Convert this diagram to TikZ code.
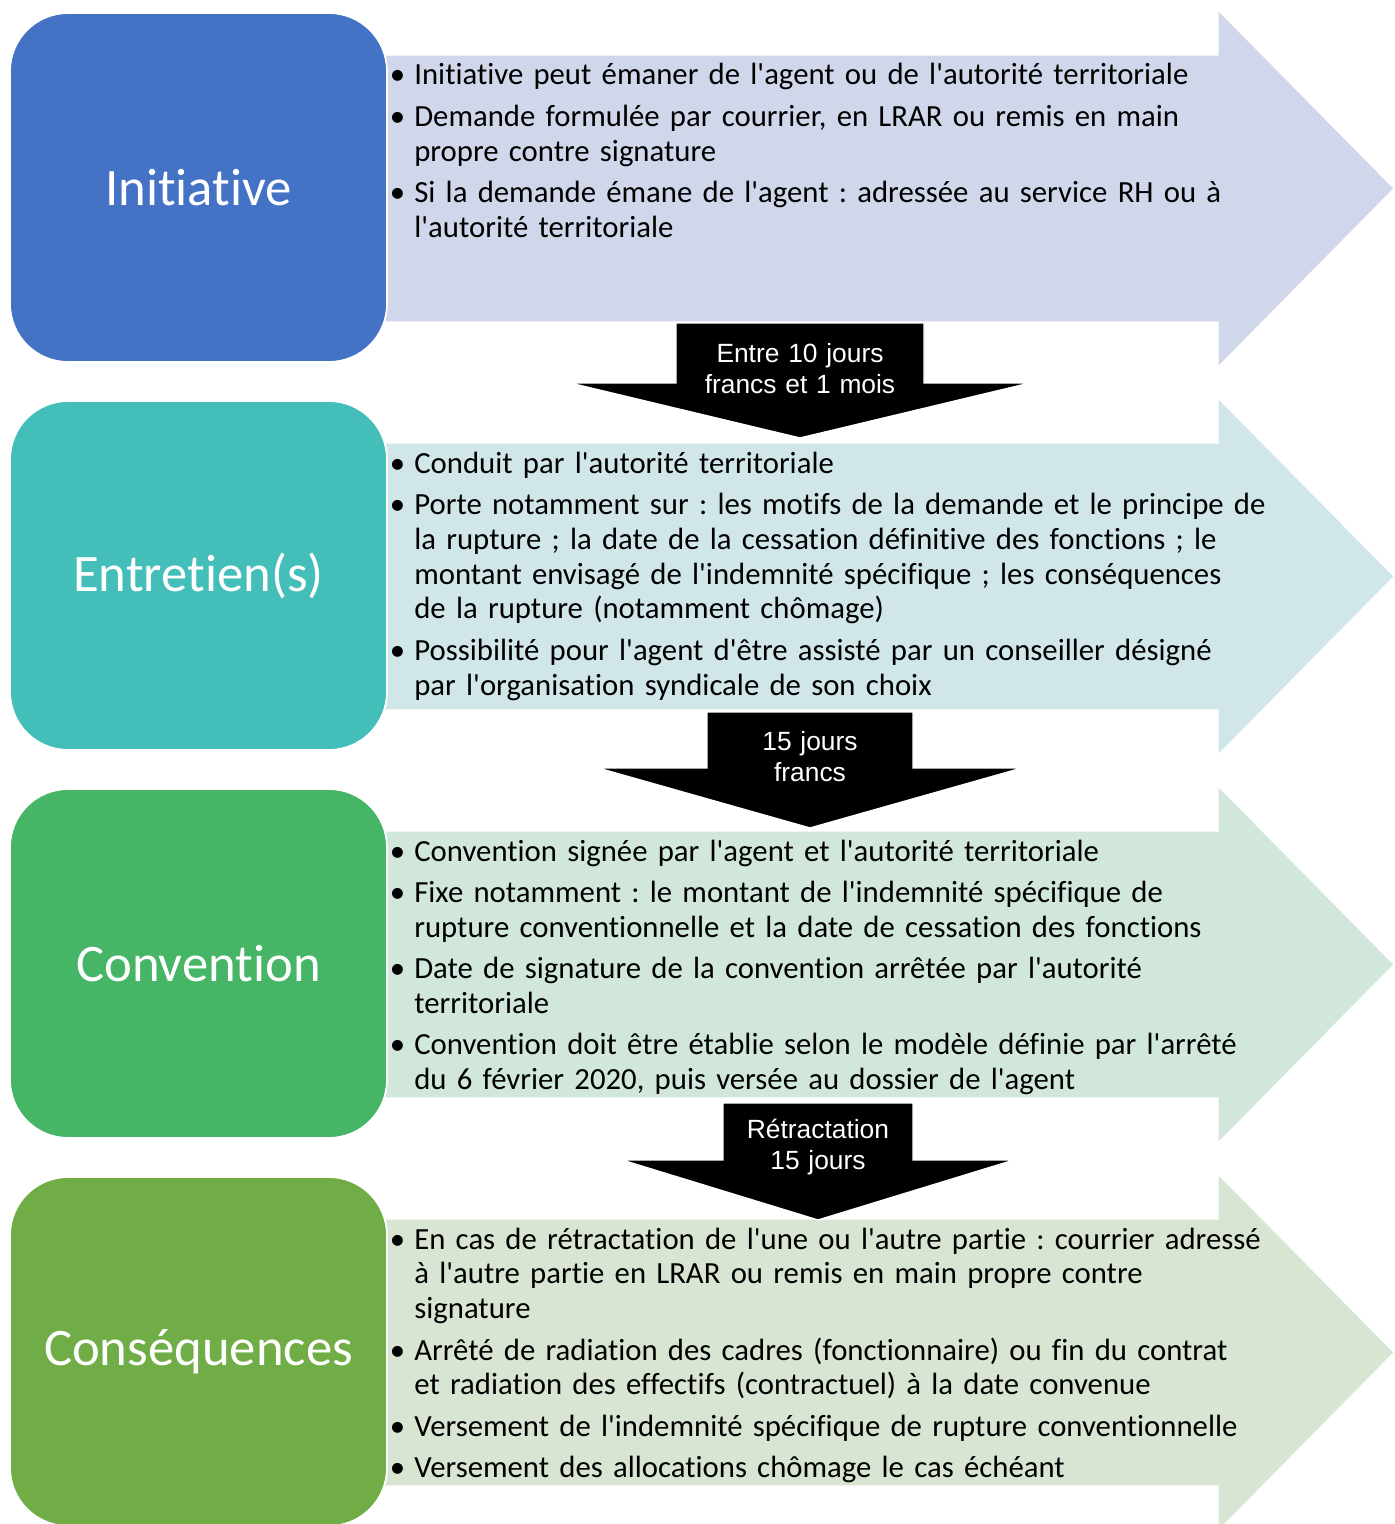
\documentclass[tikz,border=0pt]{standalone}
\usepackage{fontspec}
\usepackage{tikz}
\newfontfamily\corps{Carlito}[Ligatures={TeXOff,CommonOff}]
\newfontfamily\arial{Liberation Sans}
\definecolor{bleuF}{HTML}{4472C4}
\definecolor{bleuC}{HTML}{D0D7EB}
\definecolor{turqF}{HTML}{43BEB8}
\definecolor{turqC}{HTML}{D1E6E9}
\definecolor{vertF}{HTML}{46B565}
\definecolor{vertC}{HTML}{D2E7DC}
\definecolor{oliveF}{HTML}{70AD47}
\definecolor{oliveC}{HTML}{D9E5D3}
\tikzset{etape/.style={rounded corners=1.16cm, draw=white, line width=1pt,
  minimum width=7.54cm, minimum height=6.98cm, inner sep=0pt, text=white,
  font=\corps\fontsize{30}{36}\selectfont}}
\tikzset{liste/.style={anchor=base west, inner sep=0pt, text width=20cm,
  align=left, font=\corps\fontsize{17.5}{19.8}\selectfont\frenchspacing}}
\tikzset{fleche/.style={draw=white, line width=0.6pt}}
\tikzset{bloc/.style={fill=black, draw=white, line width=0.8pt}}
\tikzset{delai/.style={anchor=base, inner sep=0pt, text width=5cm,
  align=center, text=white, font=\arial\fontsize{15}{18}\selectfont}}
\newcommand{\puce}{\setlength{\parskip}{3.8pt}\frenchspacing\hangindent=0.54cm\hangafter=1%
  \makebox[0.54cm][l]{\hspace{0.05cm}\textbullet}}

\begin{document}
\begin{tikzpicture}[x=0.02cm, y=-0.02cm]
    \useasboundingbox (0,0) rectangle (1394,1524);
    \clip (0,0) rectangle (1394,1524);
    %%
    \path[fleche, fill=bleuC] (300,55) -- (1218,55) -- (1218,10) -- (1394,188.5)
        -- (1218,367) -- (1218,322) -- (300,322) -- cycle;
    \path[fleche, fill=turqC] (300,443) -- (1218,443) -- (1218,398) -- (1394,576.5)
        -- (1218,755) -- (1218,710) -- (300,710) -- cycle;
    \path[fleche, fill=vertC] (300,831) -- (1218,831) -- (1218,786) -- (1394,964.5)
        -- (1218,1143) -- (1218,1098) -- (300,1098) -- cycle;
    \path[fleche, fill=oliveC] (300,1219) -- (1218,1219) -- (1218,1174) -- (1394,1352.5)
        -- (1218,1531) -- (1218,1486) -- (300,1486) -- cycle;
    %%
    \node[etape, fill=bleuF] (initiative) at (198.5,187.5) {Initiative};
    \node[etape, fill=turqF] (entretien) at (198.5,575.5) {Entretien(s)};
    \node[etape, fill=vertF] (convention) at (198.5,963.5) {Convention};
    \node[etape, fill=oliveF] (consequences) at (198.5,1351.5) {Conséquences};
    %%
    \node[liste] (txt1) at (387,85) {\puce Initiative peut émaner de l'agent ou de l'autorité territoriale\par
        \puce Demande formulée par courrier, en LRAR ou remis en main\newline propre contre signature\par
        \puce Si la demande émane de l'agent : adressée au service RH ou à\newline l'autorité territoriale\par};
    \node[liste] (txt2) at (387,473) {\puce Conduit par l'autorité territoriale\par
        \puce Porte notamment sur : les motifs de la demande et le principe de\newline la rupture ; la date de la cessation définitive des fonctions ; le\newline montant envisagé de l'indemnité spécifique ; les conséquences\newline de la rupture (notamment chômage)\par
        \puce Possibilité pour l'agent d'être assisté par un conseiller désigné\newline par l'organisation syndicale de son choix\par};
    \node[liste] (txt3) at (387,861) {\puce Convention signée par l'agent et l'autorité territoriale\par
        \puce Fixe notamment : le montant de l'indemnité spécifique de\newline rupture conventionnelle et la date de cessation des fonctions\par
        \puce Date de signature de la convention arrêtée par l'autorité\newline territoriale\par
        \puce Convention doit être établie selon le modèle définie par l'arrêté\newline du 6 février 2020, puis versée au dossier de l'agent\par};
    \node[liste] (txt4) at (387,1249) {\puce En cas de rétractation de l'une ou l'autre partie : courrier adressé\newline à l'autre partie en LRAR ou remis en main propre contre\newline signature\par
        \puce Arrêté de radiation des cadres (fonctionnaire) ou fin du contrat\newline et radiation des effectifs (contractuel) à la date convenue\par
        \puce Versement de l'indemnité spécifique de rupture conventionnelle\par
        \puce Versement des allocations chômage le cas échéant\par};
    %%
    \path[bloc] (676,323) -- (924,323) -- (924,383) -- (1030,383) -- (800,438)
        -- (570,383) -- (676,383) -- cycle;
    \path[bloc] (707,712) -- (913,712) -- (913,768) -- (1022,768) -- (810,828)
        -- (598,768) -- (707,768) -- cycle;
    \path[bloc] (723,1103) -- (913,1103) -- (913,1160) -- (1014,1160) -- (818,1220)
        -- (622,1160) -- (723,1160) -- cycle;
    \node[delai] (delai1) at (800,362) {Entre 10 jours\\francs et 1 mois};
    \node[delai] (delai2) at (810,750) {15 jours\\francs};
    \node[delai] (delai3) at (818,1138) {Rétractation\\15 jours};
\end{tikzpicture}
\end{document}
